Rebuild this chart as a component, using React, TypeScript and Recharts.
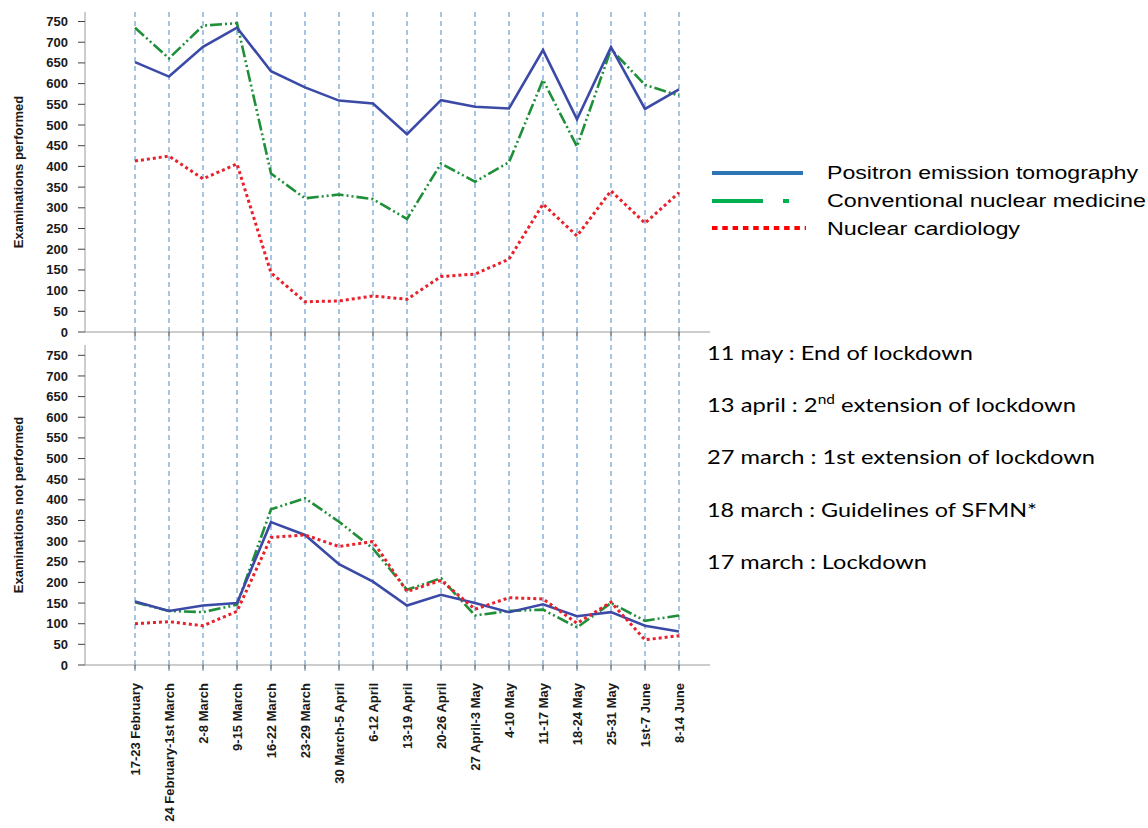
import React from 'react';
import { LineChart, Line, XAxis, YAxis, CartesianGrid } from 'recharts';

const categories = [
  '17-23 February', '24 February-1st March', '2-8 March', '9-15 March', '16-22 March',
  '23-29 March', '30 March-5 April', '6-12 April', '13-19 April', '20-26 April',
  '27 April-3 May', '4-10 May', '11-17 May', '18-24 May', '25-31 May', '1st-7 June', '8-14 June',
];

const petPerformed = [652, 617, 689, 735, 630, 591, 559, 552, 478, 560, 544, 540, 681, 514, 688, 539, 586];
const cnmPerformed = [735, 661, 740, 746, 383, 323, 332, 321, 273, 407, 363, 410, 609, 448, 683, 597, 571];
const ncPerformed = [413, 425, 370, 406, 143, 73, 75, 87, 79, 134, 140, 176, 309, 232, 341, 263, 337];

const petNotPerformed = [154, 131, 144, 150, 346, 315, 244, 202, 144, 170, 150, 128, 147, 118, 128, 95, 81];
const cnmNotPerformed = [152, 131, 128, 146, 377, 404, 347, 282, 182, 210, 120, 131, 134, 91, 150, 107, 120];
const ncNotPerformed = [100, 105, 95, 130, 309, 315, 287, 299, 178, 205, 135, 163, 160, 101, 152, 61, 71];

const yTicks = [0, 50, 100, 150, 200, 250, 300, 350, 400, 450, 500, 550, 600, 650, 700, 750];

const seriesNames = ['Positron emission tomography', 'Conventional nuclear medicine', 'Nuclear cardiology'];

const events = [
  { date: '11 may', text: 'End of lockdown' },
  { date: '13 april', text: '2nd extension of lockdown' },
  { date: '27 march', text: '1st extension of lockdown' },
  { date: '18 march', text: 'Guidelines of SFMN*' },
  { date: '17 march', text: 'Lockdown' },
];

const topData = categories.map((c, i) => ({ cat: c, pet: petPerformed[i], cnm: cnmPerformed[i], nc: ncPerformed[i] }));
const bottomData = categories.map((c, i) => ({ cat: c, pet: petNotPerformed[i], cnm: cnmNotPerformed[i], nc: ncNotPerformed[i] }));

const BLUE = '#3b4aa6';
const GREEN = '#1f8f3a';
const RED = '#e8212b';
const GRID = '#4f8cc6';
const AXIS = '#9a9a9a';
const FONT = '"Liberation Sans", Arial, sans-serif';

const YTick = (props: any) => {
  const { x, y, payload } = props;
  return (
    <text x={x} y={y} dy="0.35em" textAnchor="end" fontSize={13} fontWeight="bold" fontFamily={FONT} fill="#1a1a1a">
      {payload.value}
    </text>
  );
};

const EmptyTick = () => <g />;

const XTick = (props: any) => {
  const { x, y, payload } = props;
  return (
    <text
      transform={`translate(${x},${y}) rotate(-90)`}
      dy="0.35em"
      textAnchor="end"
      fontSize={13}
      fontWeight="bold"
      fontFamily={FONT}
      fill="#1a1a1a"
    >
      {payload.value}
    </text>
  );
};

const makeTitle = (title: string) => (props: any) => {
  const vb = props.viewBox || {};
  const cy = (vb.y || 0) + (vb.height || 0) / 2;
  return (
    <text
      transform={`translate(18,${cy}) rotate(-90)`}
      textAnchor="middle"
      dy="0.35em"
      fontSize={13}
      fontWeight="bold"
      fontFamily={FONT}
      fill="#1a1a1a"
    >
      {title}
    </text>
  );
};

const eventWidths = [266, 369, 388, 330, 220];
const eventBaselines = [360, 412, 464, 517, 569];

const seriesLines = [
  <Line key="cnm" type="linear" dataKey="cnm" stroke={GREEN} strokeWidth={2.6} strokeDasharray="12 3 2 3 2 3" dot={false} isAnimationActive={false} />,
  <Line key="pet" type="linear" dataKey="pet" stroke={BLUE} strokeWidth={2.6} dot={false} isAnimationActive={false} />,
  <Line key="nc" type="linear" dataKey="nc" stroke={RED} strokeWidth={3} strokeDasharray="3 3" dot={false} isAnimationActive={false} />,
];

export default function App() {
  return (
    <div style={{ position: 'absolute', left: 0, top: 0, width: 1148, height: 828, background: '#fff', overflow: 'hidden' }}>
      <div style={{ position: 'absolute', left: 0, top: 0 }}>
        <LineChart width={1148} height={345} data={topData} margin={{ top: 12, right: 438, bottom: 0, left: 0 }}>
          <CartesianGrid vertical={true} horizontal={false} syncWithTicks stroke={GRID} strokeDasharray="5 4" y={12} height={333} />
          <XAxis
            dataKey="cat"
            height={13}
            padding={{ left: 50, right: 31 }}
            tick={<EmptyTick />}
            tickSize={4}
            axisLine={{ stroke: AXIS }}
            tickLine={{ stroke: '#333' }}
            interval={0}
          />
          <YAxis
            width={85}
            domain={[0, 773]}
            ticks={yTicks}
            interval={0}
            tick={<YTick />}
            tickSize={7}
            tickMargin={10}
            axisLine={{ stroke: AXIS }}
            tickLine={{ stroke: '#444' }}
            label={{ content: makeTitle('Examinations performed') }}
          />
          {seriesLines}
        </LineChart>
      </div>
      <div style={{ position: 'absolute', left: 0, top: 345 }}>
        <LineChart width={1148} height={483} data={bottomData} margin={{ top: 0, right: 438, bottom: 0, left: 0 }}>
          <CartesianGrid vertical={true} horizontal={false} syncWithTicks stroke={GRID} strokeDasharray="5 4" y={0} height={326} />
          <XAxis
            dataKey="cat"
            height={163}
            padding={{ left: 50, right: 31 }}
            tick={<XTick />}
            tickSize={4}
            tickMargin={14}
            axisLine={{ stroke: AXIS }}
            tickLine={{ stroke: '#333' }}
            interval={0}
          />
          <YAxis
            width={85}
            domain={[0, 775]}
            ticks={yTicks}
            interval={0}
            tick={<YTick />}
            tickSize={7}
            tickMargin={10}
            axisLine={{ stroke: AXIS }}
            tickLine={{ stroke: '#444' }}
            label={{ content: makeTitle('Examinations not performed') }}
          />
          {seriesLines}
        </LineChart>
      </div>
      <svg width={1148} height={828} style={{ position: 'absolute', left: 0, top: 0, pointerEvents: 'none' }}>
        <g transform="translate(700,150)">
          <line x1={12} x2={103} y1={23} y2={23} stroke="#2e75b6" strokeWidth={4} />
          <line x1={12} x2={90} y1={51} y2={51} stroke="#00b050" strokeWidth={4} strokeDasharray="51 20 6 100" />
          <line x1={12} x2={106} y1={78} y2={78} stroke="#ff0000" strokeWidth={4} strokeDasharray="5.5 4.8" />
          <text x={127} y={29} fontSize={18} fontFamily={FONT} fill="#000" textLength={311} lengthAdjust="spacingAndGlyphs">{seriesNames[0]}</text>
          <text x={127} y={57} fontSize={18} fontFamily={FONT} fill="#000" textLength={319} lengthAdjust="spacingAndGlyphs">{seriesNames[1]}</text>
          <text x={127} y={85} fontSize={18} fontFamily={FONT} fill="#000" textLength={193} lengthAdjust="spacingAndGlyphs">{seriesNames[2]}</text>
        </g>
        {events.map((ev, i) => (
          <text
            key={ev.date}
            x={707}
            y={eventBaselines[i]}
            fontSize={20}
            fontFamily="Lato, 'Open Sans', sans-serif"
            fill="#000"
            textLength={eventWidths[i]}
            lengthAdjust="spacingAndGlyphs"
          >
            {ev.date} : {ev.text.startsWith('2nd') ? (
              <>
                2<tspan fontSize={13} dy={-8}>nd</tspan>
                <tspan dy={8}>{ev.text.slice(3)}</tspan>
              </>
            ) : ev.text}
          </text>
        ))}
      </svg>
    </div>
  );
}
